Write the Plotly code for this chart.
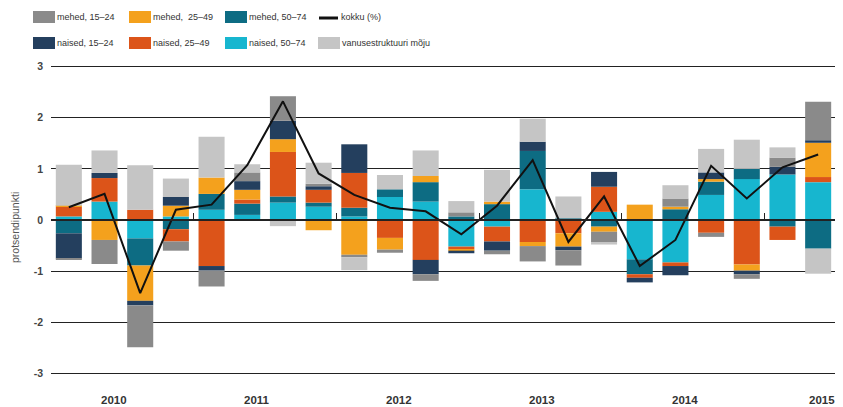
import plotly.graph_objects as go

YEARS = ["2010", "2011", "2012", "2013", "2014", "2015"]
QUARTERS = [f"{y} Q{q}" for y in YEARS for q in (1, 2, 3, 4)][:22]

# stacking order = order of traces (bottom to top on each side of zero)
naised_50_74 = [0.07, 0.36, -0.36, 0.07, 0.20, 0.10, 0.34, 0.26, 0.07, 0.45, 0.36,
                -0.52, -0.13, 0.60, 0.00, 0.16, -0.77, -0.83, 0.49, 0.80, 0.89, 0.74]
mehed_50_74 = [-0.26, 0.00, -0.53, -0.18, 0.31, 0.22, 0.12, 0.08, 0.17, 0.15, 0.38,
               0.07, 0.31, 0.75, 0.03, -0.13, -0.29, 0.21, 0.26, 0.20, -0.13, -0.56]
naised_25_49 = [0.19, 0.46, 0.20, -0.24, -0.90, 0.08, 0.87, 0.25, 0.68, -0.35, -0.78,
                -0.05, -0.29, -0.43, -0.26, 0.49, -0.07, -0.07, -0.25, -0.87, -0.26, 0.10]
mehed_25_49 = [0.02, -0.39, -0.69, 0.21, 0.32, 0.19, 0.25, -0.20, -0.68, -0.23, 0.12,
               -0.03, 0.05, -0.08, -0.26, -0.10, 0.30, 0.05, 0.05, -0.12, 0.00, 0.67]
naised_15_24 = [-0.49, 0.10, -0.09, 0.17, -0.09, 0.17, 0.36, 0.07, 0.56, 0.00, -0.28,
                -0.05, -0.18, 0.18, -0.07, 0.29, -0.09, -0.18, 0.13, -0.07, 0.15, 0.05]
mehed_15_24 = [-0.03, -0.47, -0.82, -0.18, -0.31, 0.17, 0.48, 0.05, -0.05, -0.06, -0.13,
               0.08, -0.07, -0.30, -0.30, -0.20, 0.00, 0.16, -0.08, -0.09, 0.18, 0.75]
vanusestruktuur = [0.80, 0.44, 0.87, 0.36, 0.80, 0.16, -0.12, 0.41, -0.25, 0.28, 0.50,
                   0.22, 0.62, 0.45, 0.43, -0.05, 0.00, 0.26, 0.46, 0.57, 0.20, -0.49]
kokku = [0.25, 0.51, -1.43, 0.20, 0.30, 1.07, 2.32, 0.91, 0.49, 0.24, 0.17,
         -0.28, 0.28, 1.17, -0.43, 0.46, -0.90, -0.39, 1.06, 0.42, 1.03, 1.28]

Y_TICKS = [-3, -2, -1, 0, 1, 2, 3]
Y_TICKTEXT = ["-3", "-2", "-1", "0", "1", "2", "3"]
YEAR_BOUNDS = [-0.5, 3.5, 7.5, 11.5, 15.5, 19.5]
YEAR_LABEL_POS = [1.26, 5.26, 9.26, 13.26, 17.26, 21.12]

C_M15 = "#8a8a8a"
C_N15 = "#243f5e"
C_M25 = "#f4a11d"
C_N25 = "#dc5419"
C_M50 = "#0d6c83"
C_N50 = "#17b6cf"
C_VAN = "#c5c5c5"
INK = "#333333"
FONT = "Liberation Sans, Arial, sans-serif"

x = list(range(len(QUARTERS)))

series = [
    ("naised, 50–74", naised_50_74, C_N50),
    ("mehed, 50–74", mehed_50_74, C_M50),
    ("naised, 25–49", naised_25_49, C_N25),
    ("mehed,  25–49", mehed_25_49, C_M25),
    ("naised, 15–24", naised_15_24, C_N15),
    ("mehed, 15–24", mehed_15_24, C_M15),
    ("vanusestruktuuri mõju", vanusestruktuur, C_VAN),
]

fig = go.Figure()
for name, vals, col in series:
    fig.add_trace(go.Bar(x=x, y=vals, name=name, marker=dict(color=col, line_width=0),
                         hovertext=QUARTERS, showlegend=False))
fig.add_trace(go.Scatter(x=x, y=kokku, name="kokku (%)", mode="lines",
                         line=dict(color="#111111", width=2), showlegend=False))

# page has an 8px body margin, so the figure is drawn 8px right/down of the window
OFF = 8
# plot-area geometry in window pixels
L, T, W, H = 51, 64, 785, 312


def px(xp):
    return (xp - L) / W


def py(yp):
    return (T + H - yp) / H


legend_items = [
    # (label, colour, swatch-x, row-y, kind)
    ("mehed, 15–24", C_M15, 33, 17, "box"),
    ("mehed,  25–49", C_M25, 129, 17, "box"),
    ("mehed, 50–74", C_M50, 225, 17, "box"),
    ("kokku (%)", "#111111", 319, 17, "line"),
    ("naised, 15–24", C_N15, 33, 43, "box"),
    ("naised, 25–49", C_N25, 129, 43, "box"),
    ("naised, 50–74", C_N50, 225, 43, "box"),
    ("vanusestruktuuri mõju", C_VAN, 318, 43, "box"),
]

shapes = []
annotations = []
for label, col, sx, ry, kind in legend_items:
    if kind == "box":
        shapes.append(dict(type="rect", xref="paper", yref="paper",
                           x0=px(sx), x1=px(sx + 22), y0=py(ry + 6), y1=py(ry - 6),
                           fillcolor=col, line_width=0))
        tx = sx + 22
    else:
        shapes.append(dict(type="line", xref="paper", yref="paper",
                           x0=px(sx), x1=px(sx + 19), y0=py(ry + 1), y1=py(ry + 1),
                           line=dict(color=col, width=3)))
        tx = sx + 20
    annotations.append(dict(text=label, xref="paper", yref="paper", x=px(tx), y=py(ry),
                            xanchor="left", yanchor="middle", showarrow=False,
                            font=dict(family=FONT, size=9, color=INK)))

for yr, pos in zip(YEARS, YEAR_LABEL_POS):
    annotations.append(dict(text=f"<b>{yr}</b>", x=pos, xref="x", y=py(400), yref="paper",
                            xanchor="center", yanchor="middle", showarrow=False,
                            font=dict(family=FONT, size=11.5, color=INK)))

annotations.append(dict(text="protsendipunkti", textangle=-90, xref="paper", yref="paper",
                        x=px(15), y=py(228), xanchor="center", yanchor="middle", showarrow=False,
                        font=dict(family=FONT, size=10.5, color="#555555")))

fig.update_layout(
    width=843, height=407,
    margin=dict(l=L - OFF, r=843 - (L - OFF) - W, t=T - OFF, b=407 - (T - OFF) - H),
    paper_bgcolor="white", plot_bgcolor="white",
    barmode="relative", bargap=0.27,
    showlegend=False,
    shapes=shapes, annotations=annotations,
    xaxis=dict(range=[-0.5, 21.5], tickvals=YEAR_BOUNDS, ticktext=[""] * len(YEAR_BOUNDS),
               ticks="inside", ticklen=6, tickcolor="#222222", tickwidth=1.3,
               showgrid=False, zeroline=False, showline=True, linecolor="#222222", linewidth=1.5,
               anchor="free", position=0.5, layer="above traces", fixedrange=True),
    yaxis=dict(range=[-3.05, 3.05], tickvals=Y_TICKS, ticktext=[f"<b>{t}</b>" for t in Y_TICKTEXT],
               showgrid=True, gridcolor="#222222",
               gridwidth=1.4, zeroline=False, showline=False, ticks="",
               ticklabelstandoff=7,
               tickfont=dict(family=FONT, size=10.5, color="#444444"),
               fixedrange=True),
)

fig.write_html("out.html")
